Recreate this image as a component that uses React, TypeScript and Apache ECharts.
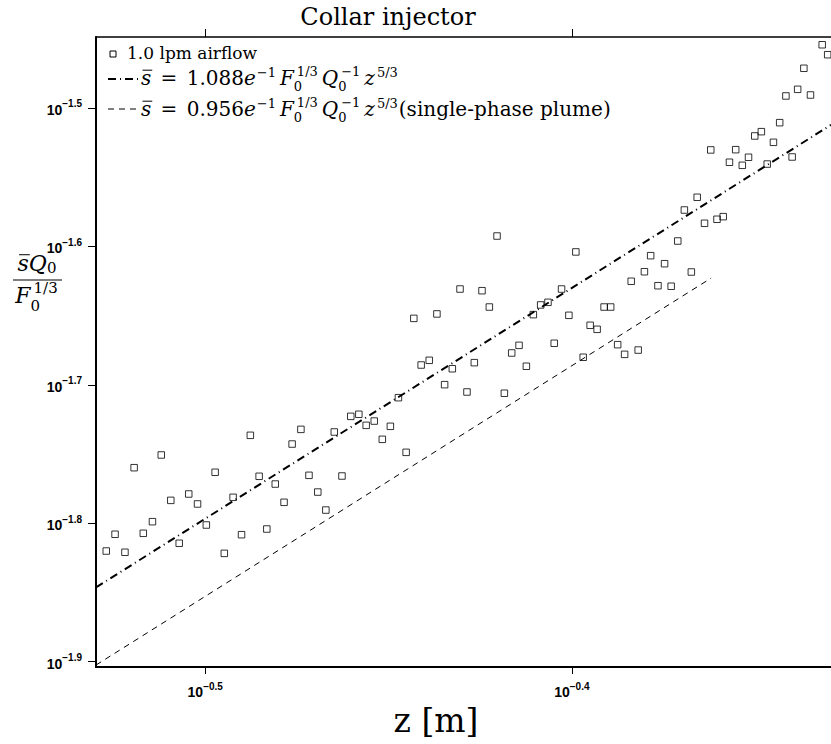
import React, { useEffect, useRef } from 'react';
import * as echarts from 'echarts';

// ---------- data (log10 values) ----------
const TITLE = 'Collar injector';
const X_NAME = 'z [m]';
const X_TICKS = [-0.5, -0.4];
const Y_TICKS = [-1.9, -1.8, -1.7, -1.6, -1.5];
const X_RANGE = [-0.5298, -0.3293];
const Y_RANGE = [-1.9039, -1.4487];

const zLog = [
  -0.5270, -0.5246, -0.5219, -0.5194, -0.5169, -0.5144, -0.5120, -0.5094, -0.5071, -0.5045,
  -0.5021, -0.4997, -0.4973, -0.4948, -0.4924, -0.4901, -0.4877, -0.4853, -0.4832, -0.4809,
  -0.4785, -0.4763, -0.4739, -0.4717, -0.4693, -0.4671, -0.4648, -0.4627, -0.4603, -0.4581,
  -0.4561, -0.4539, -0.4517, -0.4495, -0.4473, -0.4452, -0.4431, -0.4411, -0.4389, -0.4368,
  -0.4347, -0.4326, -0.4305, -0.4286, -0.4266, -0.4245, -0.4225, -0.4204, -0.4184, -0.4164,
  -0.4144, -0.4124, -0.4105, -0.4085, -0.4065, -0.4048, -0.4028, -0.4008, -0.3989, -0.3969,
  -0.3950, -0.3931, -0.3912, -0.3894, -0.3875, -0.3856, -0.3838, -0.3819, -0.3802, -0.3785,
  -0.3765, -0.3747, -0.3729, -0.3711, -0.3693, -0.3674, -0.3658, -0.3638, -0.3621, -0.3604,
  -0.3587, -0.3570, -0.3553, -0.3535, -0.3518, -0.3501, -0.3483, -0.3467, -0.3450, -0.3433,
  -0.3416, -0.3399, -0.3384, -0.3367, -0.3349, -0.3317, -0.3302,
];
const yLog = [
  -1.8201, -1.8080, -1.8210, -1.7599, -1.8073, -1.7989, -1.7507, -1.7835, -1.8145, -1.7789,
  -1.7861, -1.8013, -1.7632, -1.8218, -1.7813, -1.8083, -1.7365, -1.7661, -1.8042, -1.7717,
  -1.7849, -1.7428, -1.7322, -1.7654, -1.7775, -1.7905, -1.7341, -1.7659, -1.7228, -1.7213,
  -1.7293, -1.7262, -1.7394, -1.7300, -1.7093, -1.7488, -1.6520, -1.6857, -1.6823, -1.6488,
  -1.6999, -1.6884, -1.6308, -1.7052, -1.6840, -1.6320, -1.6438, -1.5925, -1.7061, -1.6770,
  -1.6715, -1.6866, -1.6493, -1.6423, -1.6404, -1.6700, -1.6308, -1.6498, -1.6040, -1.6801,
  -1.6570, -1.6599, -1.6438, -1.6438, -1.6710, -1.6780, -1.6252, -1.6749, -1.6183, -1.6067,
  -1.6284, -1.6125, -1.6288, -1.5961, -1.5737, -1.6185, -1.5645, -1.5833, -1.5303, -1.5804,
  -1.5785, -1.5392, -1.5301, -1.5414, -1.5356, -1.5202, -1.5171, -1.5405, -1.5248, -1.5106,
  -1.4913, -1.5354, -1.4865, -1.4713, -1.4906, -1.4543, -1.4615,
];

// fitted line (dash-dot) and single-phase plume line (dashed), end points
const fitZ = [-0.5298, -0.3293];
const fitY = [-1.8464, -1.5122];
const plumeZ = [-0.5298, -0.3620];
const plumeY = [-1.9025, -1.6229];

const SERIES_LABEL = '1.0 lpm airflow';
const COEF_FIT = '1.088';
const COEF_PLUME = '0.956';
const PLUME_NOTE = '(single-phase plume)';

// ---------- text helpers ----------
const SERIF = 'DejaVu Serif';
const SANS = 'Liberation Sans';
let _ctx: CanvasRenderingContext2D | null = null;
function tw(t: string, fs: number, it = false): number {
  if (!_ctx) _ctx = document.createElement('canvas').getContext('2d');
  _ctx!.font = `${it ? 'italic ' : ''}${fs}px "${SERIF}"`;
  return _ctx!.measureText(t).width;
}
function txt(t: string, x: number, base: number, fs: number, it = false, align = 'left') {
  return {
    type: 'text',
    x,
    y: base - 0.346 * fs,
    silent: true,
    style: {
      text: t,
      fontSize: fs,
      fontFamily: SERIF,
      fontStyle: it ? 'italic' : 'normal',
      fill: '#000',
      textAlign: align,
      textVerticalAlign: 'middle',
      verticalAlign: 'middle',
    },
  };
}
type MI = { t?: string; it?: boolean; over?: boolean; sub?: string; sup?: string; kern?: number; after?: number; supK?: number };
type MOpts = { center?: boolean; sup?: number; sub?: number; lone?: number; loneSub?: number; ratio?: number };
function mathEls(items: MI[], fs: number, x0: number, base: number, o: MOpts = {}) {
  const supShift = o.sup ?? 0.46;
  const subShift = o.sub ?? 0.31;
  const lone = o.lone ?? 0.42;
  const loneSub = o.loneSub ?? 0.22;
  const ss = Math.round(fs * (o.ratio ?? 0.65));
  const parts: any[] = [];
  let x = 0;
  for (const m of items) {
    if (m.kern) x += m.kern;
    if (m.t) {
      const w = tw(m.t, fs, m.it);
      parts.push({ k: 't', t: m.t, x, dy: 0, fs, it: !!m.it });
      if (m.over) parts.push({ k: 'o', x, w });
      x += w;
    } else {
      const both = !!(m.sub && m.sup);
      const sk = m.supK || 0;
      let w = 0;
      if (m.sup) {
        parts.push({ k: 't', t: m.sup, x: x + 1 + sk, dy: -fs * (both ? supShift : lone), fs: ss, it: false });
        w = Math.max(w, tw(m.sup, ss) + 1 + sk);
      }
      if (m.sub) {
        parts.push({ k: 't', t: m.sub, x, dy: fs * (both ? subShift : loneSub), fs: ss, it: false });
        w = Math.max(w, tw(m.sub, ss));
      }
      x += w + 1;
    }
    if (m.after) x += m.after;
  }
  const off = o.center ? x0 - x / 2 : x0;
  return parts.map((p) =>
    p.k === 't'
      ? txt(p.t, off + p.x, base + p.dy, p.fs, p.it)
      : {
          type: 'line',
          silent: true,
          shape: { x1: off + p.x + 1.5, y1: base - 0.74 * fs, x2: off + p.x + p.w + 1, y2: base - 0.74 * fs },
          style: { stroke: '#000', lineWidth: 1 },
        }
  );
}
function formula(coef: string): MI[] {
  return [
    { t: 's', it: true, over: true },
    { t: ' = ', kern: 3, after: 3 },
    { t: coef },
    { t: 'e', it: true },
    { sup: '−1', after: 3 },
    { t: 'F', it: true },
    { sub: '0', sup: '1/3', supK: 2, after: 3 },
    { t: 'Q', it: true },
    { sub: '0', sup: '−1', supK: 2, after: 3 },
    { t: 'z', it: true },
    { sup: '5/3', supK: 1 },
  ];
}

const DASHDOT = [8, 4, 1, 4];
const DASHED = [6, 5];

function fmtExp(v: number) {
  return (v < 0 ? '−' : '') + Math.abs(v).toFixed(1);
}
const tickRich = {
  b: { fontSize: 14, fontWeight: 'bold', fontFamily: SANS, lineHeight: 18, verticalAlign: 'bottom', color: '#000' },
  s: { fontSize: 10, fontWeight: 'bold', fontFamily: SANS, lineHeight: 8, verticalAlign: 'top', color: '#000' },
};

function buildOption() {
  const graphic: any[] = [];
  // title
  graphic.push(txt(TITLE, 388, 25, 24, false, 'center'));
  // x axis name
  graphic.push(txt(X_NAME, 436, 732, 33, false, 'center'));
  // y axis name (fraction)
  graphic.push(
    ...mathEls([{ t: 's', it: true, over: true }, { t: 'Q', it: true }, { sub: '0' }], 22, 37.5, 271, {
      center: true,
      loneSub: 0.12,
      ratio: 0.68,
    })
  );
  graphic.push({ type: 'line', silent: true, shape: { x1: 13, y1: 280, x2: 62, y2: 280 }, style: { stroke: '#000', lineWidth: 1.2 } });
  graphic.push(
    ...mathEls([{ t: 'F', it: true }, { sub: '0', sup: '1/3', supK: 2 }], 22, 37, 303, {
      center: true,
      sup: 0.46,
      sub: 0.37,
      ratio: 0.68,
    })
  );
  // legend
  graphic.push({ type: 'rect', silent: true, shape: { x: 110, y: 51, width: 6, height: 6 }, style: { fill: 'none', stroke: '#000', lineWidth: 1 } });
  graphic.push(txt(SERIES_LABEL, 127, 59, 17));
  graphic.push({ type: 'line', silent: true, shape: { x1: 108, y1: 79, x2: 140, y2: 79 }, style: { stroke: '#000', lineWidth: 2, lineDash: DASHDOT } });
  graphic.push(...mathEls(formula(COEF_FIT), 20, 141, 85));
  graphic.push({ type: 'line', silent: true, shape: { x1: 108, y1: 109, x2: 140, y2: 109 }, style: { stroke: '#000', lineWidth: 1, lineDash: DASHED } });
  graphic.push(...mathEls([...formula(COEF_PLUME), { t: PLUME_NOTE, kern: 0 }], 20, 141, 116));

  return {
    animation: false,
    backgroundColor: '#fff',
    grid: { left: 96, right: 0, top: 37, bottom: 77, outerBoundsMode: 'none', containLabel: false },
    xAxis: [
      {
        type: 'value',
        position: 'bottom',
        min: X_RANGE[0],
        max: X_RANGE[1],
        axisLine: { show: true, onZero: false, lineStyle: { color: '#000', width: 2 } },
        axisTick: { show: true, customValues: X_TICKS, length: 7, lineStyle: { color: '#000', width: 1 } },
        axisLabel: { customValues: X_TICKS, margin: 14, formatter: (v: number) => `{b|10}{s|${fmtExp(v)}}`, rich: tickRich },
        splitLine: { show: false },
      },
      {
        type: 'value',
        position: 'top',
        min: X_RANGE[0],
        max: X_RANGE[1],
        axisLine: { show: true, onZero: false, lineStyle: { color: '#000', width: 1.5 } },
        axisTick: { show: true, customValues: X_TICKS, length: 8, lineStyle: { color: '#000', width: 1 } },
        axisLabel: { show: false },
        splitLine: { show: false },
      },
    ],
    yAxis: [
      {
        type: 'value',
        min: Y_RANGE[0],
        max: Y_RANGE[1],
        axisLine: { show: true, onZero: false, lineStyle: { color: '#000', width: 2 } },
        axisTick: { show: true, customValues: Y_TICKS, length: 8, lineStyle: { color: '#000', width: 1 } },
        axisLabel: { customValues: Y_TICKS, margin: 14, formatter: (v: number) => `{b|10}{s|${fmtExp(v)}}`, rich: tickRich },
        splitLine: { show: false },
      },
    ],
    series: [
      {
        type: 'line',
        data: plumeZ.map((z, i) => [z, plumeY[i]]),
        showSymbol: false,
        symbol: 'none',
        lineStyle: { color: '#000', width: 1, type: DASHED },
        silent: true,
      },
      {
        type: 'line',
        data: fitZ.map((z, i) => [z, fitY[i]]),
        showSymbol: false,
        symbol: 'none',
        lineStyle: { color: '#000', width: 2, type: DASHDOT },
        silent: true,
      },
      {
        type: 'scatter',
        data: zLog.map((z, i) => [z, yLog[i]]),
        symbol: 'rect',
        symbolSize: 6.5,
        itemStyle: { color: 'rgba(0,0,0,0)', borderColor: '#000', borderWidth: 1 },
        silent: true,
      },
    ],
    graphic,
  };
}

export default function App() {
  const ref = useRef<HTMLDivElement>(null);
  useEffect(() => {
    const chart = echarts.init(ref.current!, null, { renderer: 'svg' });
    chart.setOption(buildOption() as any);
    return () => chart.dispose();
  }, []);
  return (
    <div
      ref={ref}
      style={{ position: 'fixed', left: 0, top: 0, width: 831, height: 744, background: '#fff' }}
    />
  );
}
